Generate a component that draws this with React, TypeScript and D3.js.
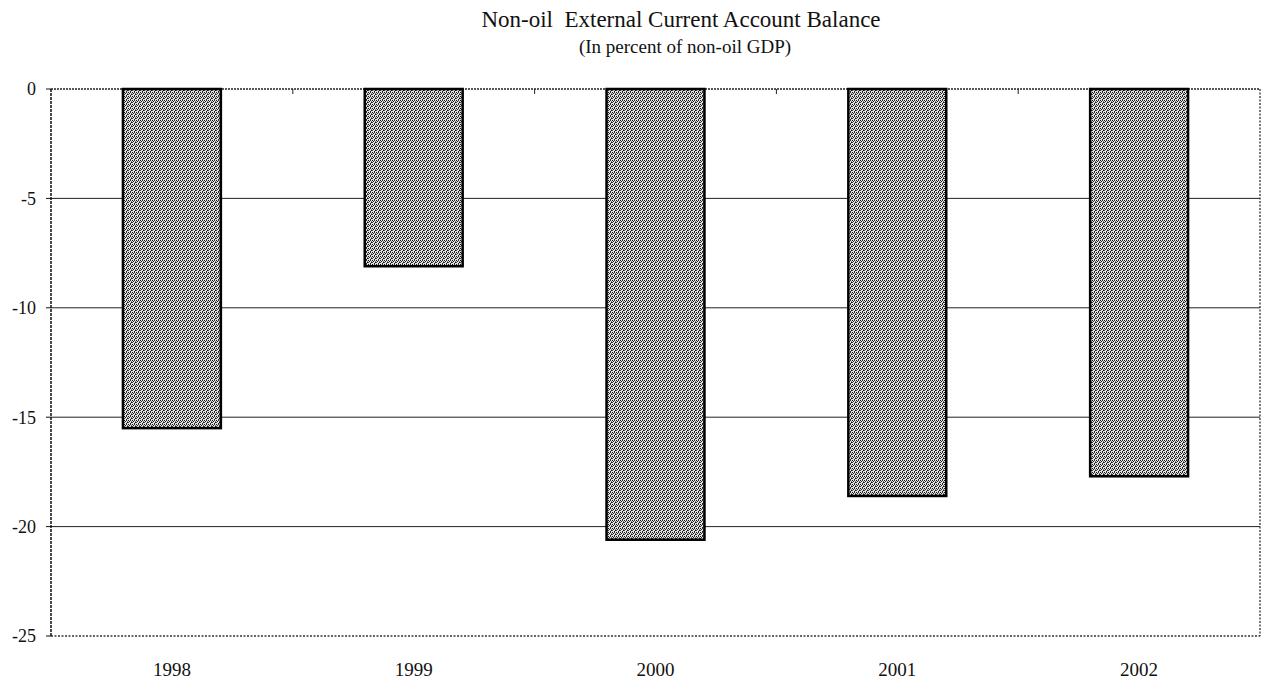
import React from "react";
import * as d3 from "d3";

const years = ["1998", "1999", "2000", "2001", "2002"];
const balance = [-15.5, -8.1, -20.6, -18.6, -17.7];
const yTicks = [0, -5, -10, -15, -20, -25];

const W = 1268;
const H = 682;
const M = { left: 51, right: 1260, top: 89, bottom: 636 };

export default function App() {
  const x = d3
    .scaleBand<string>()
    .domain(years)
    .range([M.left, M.right])
    .paddingInner(0.595)
    .paddingOuter(0.2975);
  const y = d3.scaleLinear().domain([0, -25]).range([M.top, M.bottom]);
  const serif = "'Liberation Serif', 'DejaVu Serif', serif";
  const boundaries = years.slice(1).map((yr) => (x(yr) as number) - (x.step() - x.bandwidth()) / 2);

  return (
    <svg
      width={W}
      height={H}
      style={{ position: "absolute", left: 0, top: 0, background: "#fff" }}
      fontFamily={serif}
    >
      <defs>
        <pattern id="halftone" width={4} height={4} patternUnits="userSpaceOnUse">
          <rect width={4} height={4} fill="#e2e2e2" />
          <rect x={0} y={0} width={1} height={1} fill="#111" />
          <rect x={2} y={0} width={1} height={1} fill="#333" />
          <rect x={1} y={1} width={1} height={1} fill="#222" />
          <rect x={3} y={2} width={1} height={1} fill="#111" />
          <rect x={0} y={2} width={1} height={1} fill="#444" />
          <rect x={2} y={3} width={1} height={1} fill="#222" />
          <rect x={3} y={1} width={1} height={1} fill="#777" />
        </pattern>
      </defs>

      <text x={681} y={27} textAnchor="middle" fontSize={23} fill="#111">
        Non-oil{"\u00a0\u00a0"}External Current Account Balance
      </text>
      <text x={685} y={53} textAnchor="middle" fontSize={19} fill="#111">
        (In percent of non-oil GDP)
      </text>

      {/* horizontal gridlines */}
      {yTicks
        .filter((t) => t !== 0 && t !== -25)
        .map((t) => (
          <line key={t} x1={M.left} x2={M.right} y1={y(t)} y2={y(t)} stroke="#222" strokeWidth={1} />
        ))}

      {/* dotted plot frame */}
      <line x1={M.left} x2={M.right} y1={y(0)} y2={y(0)} stroke="#222" strokeWidth={1.3} strokeDasharray="2,1" />
      <line x1={M.left} x2={M.right} y1={y(-25)} y2={y(-25)} stroke="#333" strokeWidth={1.3} strokeDasharray="2,1.5" />
      <line x1={M.right} x2={M.right} y1={M.top} y2={M.bottom} stroke="#333" strokeWidth={1.3} strokeDasharray="2,1.5" />
      <line x1={M.left} x2={M.left} y1={M.top} y2={M.bottom} stroke="#111" strokeWidth={1.5} strokeDasharray="3,1" />

      {/* category dividers on the zero line */}
      {boundaries.map((bx, i) => (
        <line key={i} x1={bx} x2={bx} y1={y(0)} y2={y(0) + 5} stroke="#222" strokeWidth={1} />
      ))}

      {/* y axis ticks and labels */}
      {yTicks.map((t) => (
        <g key={t}>
          <line x1={M.left - 5} x2={M.left} y1={y(t)} y2={y(t)} stroke="#111" strokeWidth={1} />
          <text x={36} y={y(t)} dy="0.35em" textAnchor="end" fontSize={18} fill="#111">
            {t}
          </text>
        </g>
      ))}

      {/* bars */}
      {years.map((yr, i) => (
        <rect
          key={yr}
          x={x(yr)}
          y={y(0)}
          width={x.bandwidth()}
          height={y(balance[i]) - y(0)}
          fill="url(#halftone)"
          stroke="#000"
          strokeWidth={2.5}
        />
      ))}

      {/* x axis labels */}
      {years.map((yr) => (
        <text
          key={yr}
          x={(x(yr) as number) + x.bandwidth() / 2}
          y={676}
          textAnchor="middle"
          fontSize={19}
          fill="#111"
        >
          {yr}
        </text>
      ))}
    </svg>
  );
}
